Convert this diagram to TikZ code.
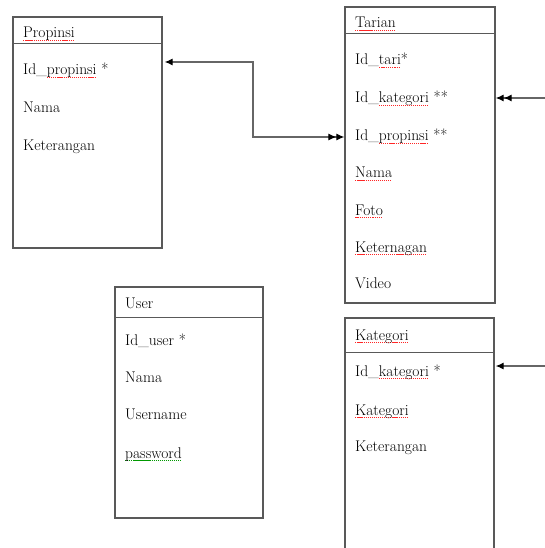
\documentclass[tikz,border=0pt]{standalone}
\usetikzlibrary{arrows.meta,calc}
\newcommand\wavy[2]{\setbox0\hbox{#2}\rlap{\hbox to\wd0{\color{#1}\xleaders\hbox{\rule[-3pt]{1.2pt}{0.8pt}\kern0.8pt}\hfill}}\box0\relax}
\newcommand\rw[1]{\wavy{red!85}{#1}}
\newcommand\gw[1]{\wavy{green!60!black}{#1}}
\tikzset{
  >={Latex[length=8pt,width=7pt,color=black]},
  tb/.style={rectangle,draw=black!65,line width=1.3pt,inner sep=0pt},
  fd/.style={anchor=base west,inner sep=0pt,font=\fontsize{15.5}{18}\selectfont,text=black},
  ln/.style={draw=black!65,line width=1.3pt},
  cn/.style={draw=black!60,line width=1.2pt},
}

\begin{document}
\begin{tikzpicture}[x=1pt,y=-1pt]
\useasboundingbox (0,0) rectangle (545,548); \clip (0,0) rectangle (545,548);
% tables
\node[tb,minimum width=149pt,minimum height=231pt] (propinsi) at (87.5,132.5){};
\node[tb,minimum width=150pt,minimum height=296pt] (tarian) at (420,155){};
\node[tb,minimum width=148pt,minimum height=231pt] (user) at (189,402.5){};
\node[tb,minimum width=149pt,minimum height=282pt] (kategori) at (419.5,459){};
\draw[ln] ([yshift=-27pt]propinsi.north west)--([yshift=-27pt]propinsi.north east);
\draw[ln] ([yshift=-27pt]tarian.north west)--([yshift=-27pt]tarian.north east);
\draw[ln] ([yshift=-31pt]user.north west)--([yshift=-31pt]user.north east);
\draw[ln] ([yshift=-35pt]kategori.north west)--([yshift=-35pt]kategori.north east);
% Propinsi
\node[fd] (ptitle) at (23,38){\rw{Propinsi}};
\node[fd] (pid) at (23,75){Id\_\rw{propinsi} *};
\node[fd] (pnama) at (23,113){Nama};
\node[fd] (pket) at (23,150){Keterangan};
% Tarian
\node[fd] (ttitle) at (355,28){\rw{Tarian}};
\node[fd] (tid) at (355,65){Id\_\rw{tari}*};
\node[fd] (tkat) at (355,103){Id\_\rw{kategori} **};
\node[fd] (tprop) at (355,141){Id\_\rw{propinsi} **};
\node[fd] (tnama) at (355,178){\rw{Nama}};
\node[fd] (tfoto) at (355,215){\rw{Foto}};
\node[fd] (tket) at (355,252){\rw{Keternagan}};
\node[fd] (tvid) at (355,288){Video};
% User
\node[fd] (utitle) at (125,308){User};
\node[fd] (uid) at (125,345){Id\_user *};
\node[fd] (unama) at (125,382){Nama};
\node[fd] (uname) at (125,419){Username};
\node[fd] (upass) at (125,458){\gw{password}};
% Kategori
\node[fd] (ktitle) at (355,340){\rw{Kategori}};
\node[fd] (kid) at (355,376){Id\_\rw{kategori} *};
\node[fd] (kkat) at (355,415){\rw{Kategori}};
\node[fd] (kket) at (355,451){Keterangan};
% relations
\coordinate (bend) at (253,137);
\coordinate (e1) at (545,98); \coordinate (e2) at (545,366);
\draw[cn,<->>] ([xshift=2pt]propinsi.east |- 0,62) -| (bend) -- (tarian.west |- bend);
\draw[cn,->>] (e1) -- (tarian.east |- e1);
\draw[cn,->] (e2) -- ([xshift=1pt]kategori.east |- e2);
\end{tikzpicture}
\end{document}
